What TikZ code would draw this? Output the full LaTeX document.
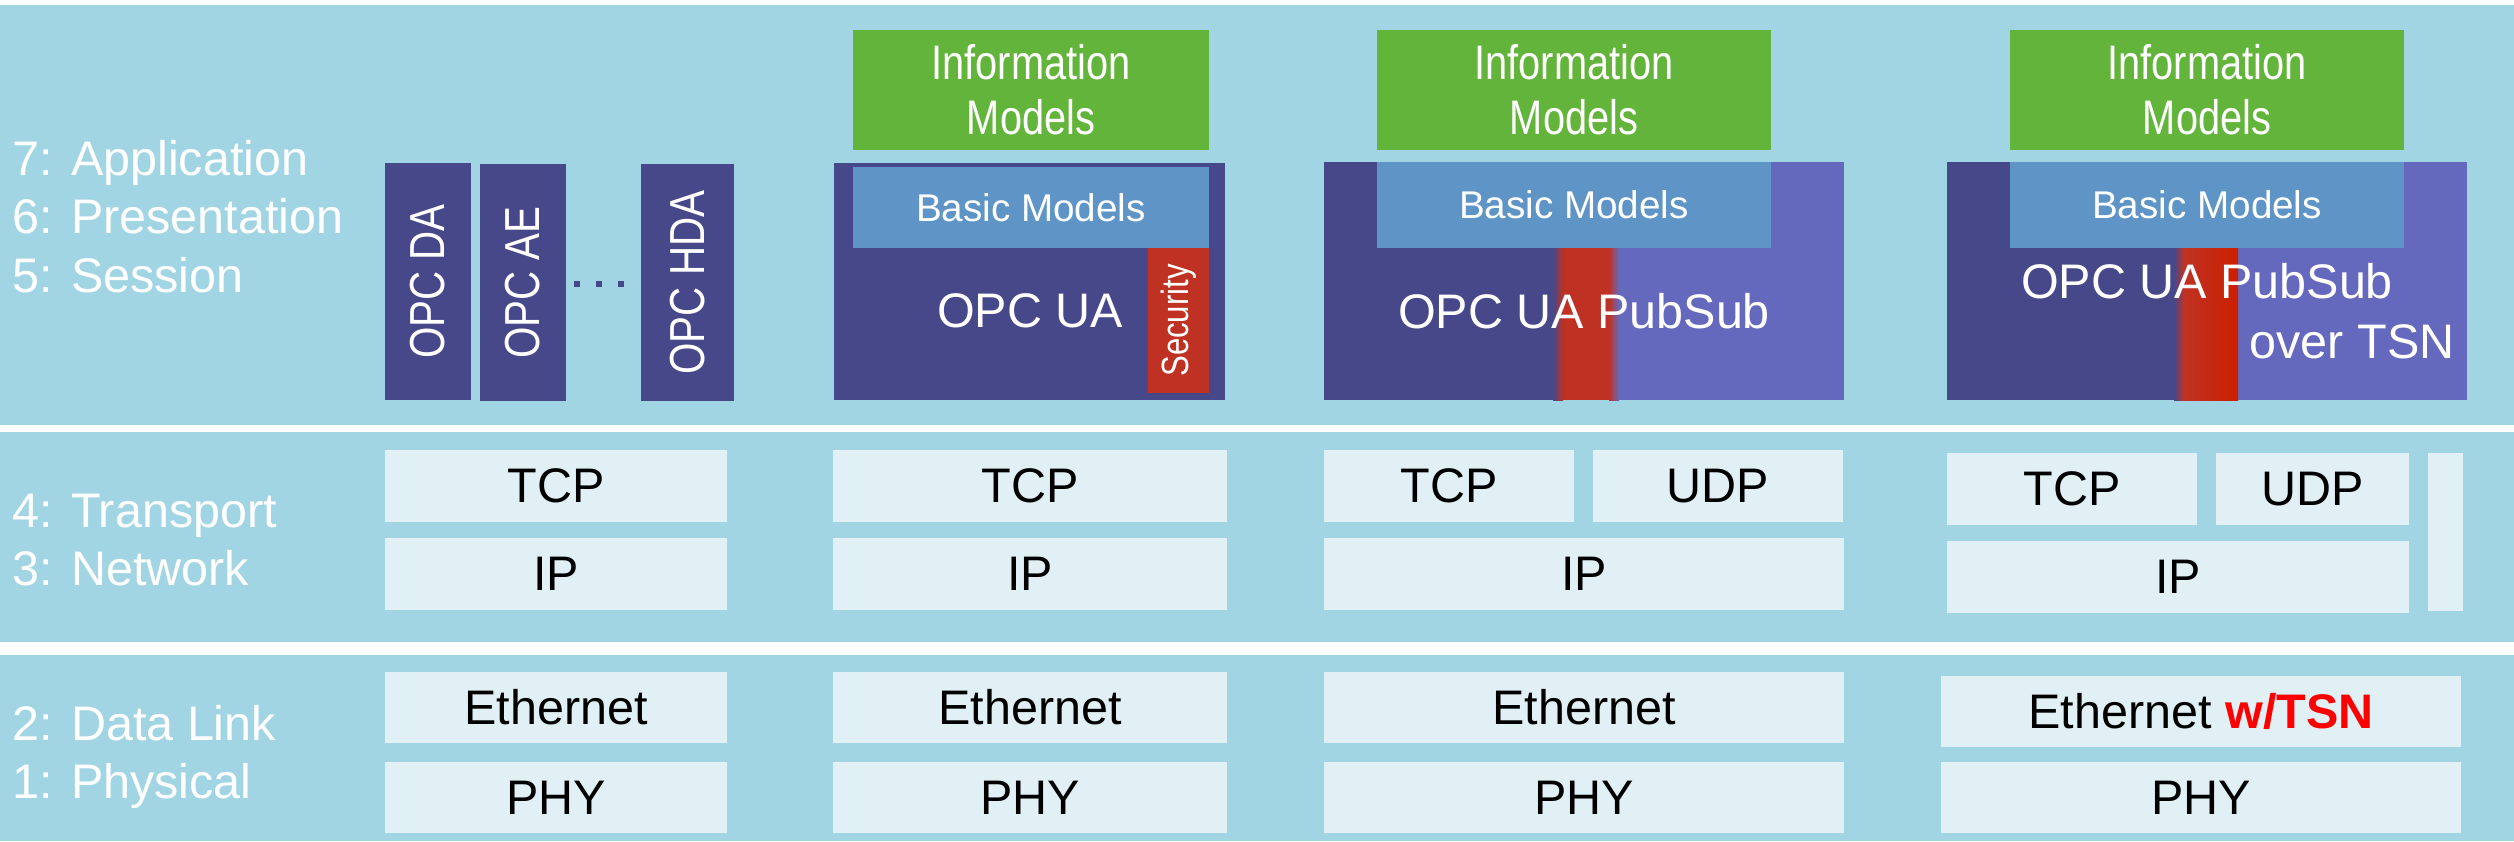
\documentclass[tikz,border=0pt]{standalone}
\usepackage{fontspec}
\setmainfont{Liberation Sans}
\usepackage{xcolor}

\definecolor{bandblue}{HTML}{A2D5E3}
\definecolor{opcblue}{HTML}{46488A}
\definecolor{subviolet}{HTML}{6569BD}
\definecolor{infogreen}{HTML}{62B43A}
\definecolor{basicblue}{HTML}{5F95C6}
\definecolor{secred}{HTML}{BF3223}
\definecolor{stripered}{HTML}{CC1F00}
\definecolor{protofill}{HTML}{E1F0F5}
\definecolor{tsnred}{HTML}{FF0000}

\newcommand{\bigfont}{\fontsize{13.8}{15.6}\selectfont}
\newcommand{\narrow}[1]{\scalebox{0.82}[1]{#1}}

\tikzset{
  layer/.style={anchor=base west, text=white, inner sep=0pt, font=\bigfont},
  proto/.style={fill=protofill, inner sep=0pt, minimum height=7.2mm, font=\bigfont},
  opcbox/.style={fill=opcblue, text=white, inner sep=0pt, rotate=90,
                 minimum width=23.7mm, font=\fontsize{14}{16}\selectfont},
  infobox/.style={fill=infogreen, text=white, inner sep=0pt, align=center,
                  minimum height=12mm, font=\bigfont},
  basicbox/.style={fill=basicblue, text=white, inner sep=0pt,
                   font=\fontsize{11}{13}\selectfont},
  uatext/.style={text=white, inner sep=0pt, font=\bigfont}
}

\begin{document}
\begin{tikzpicture}[x=0.1mm, y=-0.1mm]
\useasboundingbox (0,0) rectangle (2514,841);

% bands
\fill[bandblue] (0,5) rectangle (2514,425);
\fill[bandblue] (0,432) rectangle (2514,642);
\fill[bandblue] (0,655) rectangle (2514,841);

% OSI layers
\node[layer] (l7) at (12,175) {7: Application};
\node[layer] (l6) at (12,233) {6: Presentation};
\node[layer] (l5) at (12,292) {5: Session};
\node[layer] (l4) at (12,527) {4: Transport};
\node[layer] (l3) at (12,585) {3: Network};
\node[layer] (l2) at (12,740) {2: Data Link};
\node[layer] (l1) at (12,798) {1: Physical};

% classic OPC
\node[opcbox, minimum height=8.6mm] (da) at (428,281.5) {\narrow{OPC DA}};
\node[opcbox, minimum height=8.6mm] (ae) at (523,282.5) {\narrow{OPC AE}};
\node[opcbox, minimum height=9.3mm] (hda) at (687.5,282.5) {\narrow{OPC HDA}};
\foreach \x in {577,599,621}
  \fill[opcblue] (\x-3,281) rectangle (\x+3,287);

\node[proto, minimum width=34.2mm] (tcp1) at (556,486) {TCP};
\node[proto, minimum width=34.2mm] (ip1) at (556,574) {IP};
\node[proto, minimum width=34.2mm, minimum height=7.1mm] (eth1) at (556,707.5) {Ethernet};
\node[proto, minimum width=34.2mm, minimum height=7.1mm] (phy1) at (556,797.5) {PHY};

% OPC UA
\fill[opcblue] (834,163) rectangle (1225,400);
\node[infobox, minimum width=35.6mm] (info2) at (1031,90) {\narrow{Information}\\\narrow{Models}};
\node[basicbox, minimum width=35.6mm, minimum height=8.1mm] (basic2) at (1031,207.5) {Basic Models};
\node[opcbox, fill=secred, minimum width=14.5mm, minimum height=6.1mm,
      font=\fontsize{10.8}{12}\selectfont] (sec2) at (1178.5,320.5) {\narrow{Security}};
\node[uatext] (ua2) at (1030,311) {OPC UA};

\node[proto, minimum width=39.4mm] (tcp2) at (1030,486) {TCP};
\node[proto, minimum width=39.4mm] (ip2) at (1030,574) {IP};
\node[proto, minimum width=39.4mm, minimum height=7.1mm] (eth2) at (1030,707.5) {Ethernet};
\node[proto, minimum width=39.4mm, minimum height=7.1mm] (phy2) at (1030,797.5) {PHY};

% OPC UA PubSub
\fill[opcblue] (1324,162) rectangle (1614,400);
\fill[subviolet] (1614,162) rectangle (1844,400);
\fill[secred] (1560,248) rectangle (1612,400);
\shade[left color=opcblue, right color=secred] (1553,248) rectangle (1563,400);
\shade[left color=secred, right color=subviolet] (1609,248) rectangle (1619,400);
\node[infobox, minimum width=39.4mm] (info3) at (1574,90) {\narrow{Information}\\\narrow{Models}};
\node[basicbox, minimum width=39.4mm, minimum height=8.6mm] (basic3) at (1574,205) {Basic Models};
\node[uatext] (ua3) at (1584,311) {OPC UA PubSub};

\node[proto, minimum width=25mm] (tcp3) at (1449,486) {TCP};
\node[proto, minimum width=25mm] (udp3) at (1718,486) {UDP};
\node[proto, minimum width=52mm] (ip3) at (1584,574) {IP};
\node[proto, minimum width=52mm, minimum height=7.1mm] (eth3) at (1584,707.5) {Ethernet};
\node[proto, minimum width=52mm, minimum height=7.1mm] (phy3) at (1584,797.5) {PHY};

% OPC UA PubSub over TSN
\fill[opcblue] (1947,162) rectangle (2238,400);
\fill[subviolet] (2238,162) rectangle (2467,400);
\shade[left color=opcblue, right color=secred] (2174,248) rectangle (2184,400);
\shade[left color=secred, right color=stripered] (2183,248) rectangle (2238,400);
\node[infobox, minimum width=39.4mm] (info4) at (2207,90) {\narrow{Information}\\\narrow{Models}};
\node[basicbox, minimum width=39.4mm, minimum height=8.6mm] (basic4) at (2207,205) {Basic Models};
\node[uatext] (ua4) at (2207,281) {OPC UA PubSub};
\node[uatext] (over4) at (2352,342) {over TSN};

\node[proto, minimum width=25mm] (tcp4) at (2072,489) {TCP};
\node[proto, minimum width=19.3mm] (udp4) at (2312.5,489) {UDP};
\node[proto, minimum width=46.2mm] (ip4) at (2178,577) {IP};
\node[proto, minimum width=3.5mm, minimum height=15.8mm] (bar4) at (2445.5,532) {};
\node[proto, minimum width=52mm, minimum height=7.1mm] (eth4) at (2201,711.5)
  {Ethernet \textcolor{tsnred}{\textbf{w/TSN}}};
\node[proto, minimum width=52mm, minimum height=7.1mm] (phy4) at (2201,797.5) {PHY};
\end{tikzpicture}
\end{document}
